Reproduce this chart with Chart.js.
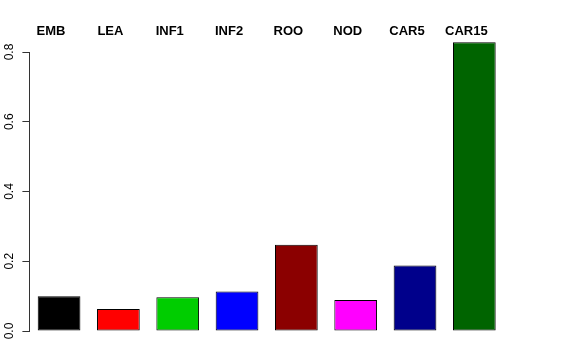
<!DOCTYPE html>
<html>
<head>
<meta charset="utf-8">
<script src="https://cdn.jsdelivr.net/npm/chart.js@4"></script>
<style>
  body { margin: 0; background: #fff; }
  canvas { display: block; }
</style>
</head>
<body>
<canvas id="chart" width="576" height="360"></canvas>
<script>
const categories = ['EMB', 'LEA', 'INF1', 'INF2', 'ROO', 'NOD', 'CAR5', 'CAR15'];
const values = [0.100, 0.063, 0.097, 0.113, 0.247, 0.089, 0.188, 0.828];
const barColors = ['#000000', '#FF0000', '#00CD00', '#0000FF', '#8B0000', '#FF00FF', '#00008B', '#006400'];
const yTicks = [0.0, 0.2, 0.4, 0.6, 0.8];

Chart.defaults.font.family = '"Liberation Sans", Arial, sans-serif';
Chart.defaults.color = '#000';

new Chart(document.getElementById('chart').getContext('2d'), {
    type: 'bar',
    data: {
        labels: categories,
        datasets: [{
            data: values,
            backgroundColor: barColors,
            borderColor: '#000',
            borderWidth: 1,
            borderSkipped: false,
            categoryPercentage: 0.72,
            barPercentage: 1,
            clip: false
        }]
    },
    options: {
        responsive: false,
        devicePixelRatio: 1,
        animation: false,
        layout: { padding: { left: 0, right: 72, top: 10, bottom: 29 } },
        plugins: { legend: { display: false }, tooltip: { enabled: false } },
        scales: {
            x: {
                position: 'top',
                afterFit: s => { s.height = 42; },
                grid: { display: false, drawTicks: false },
                border: { display: false },
                ticks: { font: { size: 13, weight: 'bold' }, padding: 13, labelOffset: -8, maxRotation: 0, autoSkip: false }
            },
            y: {
                min: 0,
                max: 0.8,
                afterBuildTicks: axis => { axis.ticks = yTicks.map(v => ({ value: v })); },
                grid: { drawOnChartArea: false, drawTicks: true, tickLength: 7, color: '#333' },
                border: { display: true, color: '#333' },
                ticks: {
                    font: { size: 12 },
                    minRotation: 90,
                    maxRotation: 90,
                    crossAlign: 'center',
                    padding: 4,
                    callback: v => v.toFixed(1)
                }
            }
        }
    }
});
</script>
</body>
</html>
